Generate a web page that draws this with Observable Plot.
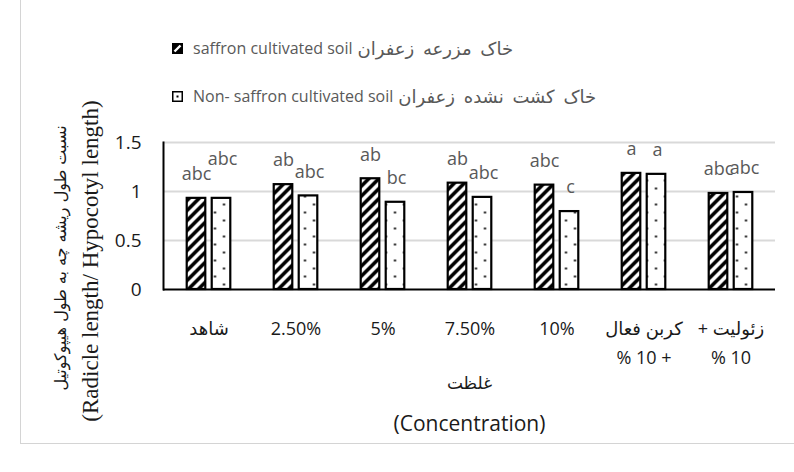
<!DOCTYPE html>
<html>
<head>
<meta charset="utf-8">
<script src="https://cdn.jsdelivr.net/npm/d3@7"></script>
<script src="https://cdn.jsdelivr.net/npm/@observablehq/plot@0.6"></script>
<style>
  html, body { margin: 0; padding: 0; background: #fff; }
  #wrap { position: relative; width: 794px; height: 472px; overflow: hidden; font-family: "Open Sans", "DejaVu Sans", sans-serif; }
  #border { position: absolute; left: 20px; top: -2px; width: 790px; height: 445px; border-left: 1px solid #d4d4d4; border-bottom: 1px solid #d4d4d4; }
  #legend { position: absolute; left: 172px; top: 24px; font-size: 16px; color: #595959; }
  .row { height: 48px; display: flex; align-items: center; white-space: nowrap; }
  .row svg { margin-right: 10px; flex: none; }
  .fa { font-family: "DejaVu Sans", sans-serif; font-size: 18px; word-spacing: 3px; margin-left: 5px; }
</style>
</head>
<body>
<div id="wrap">
  <div id="border"></div>
  <div id="chart"></div>
  <div id="legend"></div>
</div>
<script>
// ---- data ----
const categories = ["control", "2.5", "5", "7.5", "10", "ac10", "zeo10"];
const categoryLabels = ["شاهد", "2.50%", "5%", "7.50%", "10%", "کربن فعال\n% 10 +", "+ زئولیت\n% 10"];
const seriesNames = ["saffron cultivated soil", "Non- saffron cultivated soil"];
const seriesNamesFa = ["خاک مزرعه زعفران", "خاک کشت نشده زعفران"];
const saffronValues = [0.93, 1.07, 1.13, 1.085, 1.065, 1.185, 0.98];
const nonSaffronValues = [0.93, 0.955, 0.89, 0.94, 0.795, 1.175, 0.99];
const saffronLetters = ["abc", "ab", "ab", "ab", "abc", "a", "abc"];
const nonSaffronLetters = ["abc", "abc", "bc", "abc", "c", "a", "abc"];
const yTicks = [0, 0.5, 1, 1.5];
const yTitleFa = "نسبت طول ریشه چه به طول هیپوکوتیل";
const yTitleEn = "(Radicle length/ Hypocotyl length)";
const xTitleFa = "غلظت";
const xTitleEn = "(Concentration)";

const saffron = categories.map((c, i) => ({cat: c, v: saffronValues[i], sig: saffronLetters[i], i}));
const nonSaffron = categories.map((c, i) => ({cat: c, v: nonSaffronValues[i], sig: nonSaffronLetters[i], i}));
const labelOf = new Map(categories.map((c, i) => [c, categoryLabels[i]]));

// ---- layout ----
const W = 794, H = 472, mL = 163, mR = 19, mT = 142, mB = 183;
const band = (W - mL - mR) / categories.length;
const barW = 19, off = 12.5;
const inset = (band - barW) / 2;
const fa = "'DejaVu Sans', 'Open Sans', sans-serif";

const chart = Plot.plot({
  width: W, height: H,
  marginLeft: mL, marginRight: mR, marginTop: mT, marginBottom: mB,
  style: {fontFamily: "'Open Sans', 'DejaVu Sans', sans-serif", background: "transparent", overflow: "visible"},
  x: {domain: categories, padding: 0, axis: null},
  y: {domain: [0, 1.5], axis: null},
  marks: [
    Plot.gridY(yTicks.filter(d => d > 0), {stroke: "#d9d9d9", strokeOpacity: 1, strokeWidth: 2}),
    Plot.axisY({ticks: yTicks, tickSize: 0, tickPadding: 22, fontSize: 19, fill: "#1a1a1a", tickFormat: d => `${d}`, label: null}),
    Plot.barY(saffron, {x: "cat", y: "v", fill: "url(#hatch)", stroke: "#000", strokeWidth: 2.2, dx: -off, insetLeft: inset, insetRight: inset}),
    Plot.barY(nonSaffron, {x: "cat", y: "v", fill: "url(#dots)", stroke: "#000", strokeWidth: 2.2, dx: off, insetLeft: inset, insetRight: inset}),
    Plot.ruleY([0], {stroke: "#000", strokeWidth: 2}),
    Plot.frame({anchor: "left", stroke: "#000", strokeWidth: 2}),
    Plot.text(saffron, {x: "cat", y: "v", text: "sig", dx: -off, dy: -24, fontSize: 18, fill: "#595959"}),
    Plot.text(nonSaffron, {filter: d => d.i > 0, x: "cat", y: "v", text: "sig", dx: off + 1, dy: -24, fontSize: 18, fill: "#595959"}),
    Plot.text(nonSaffron, {filter: d => d.i === 0, x: "cat", y: "v", text: "sig", dx: off + 1, dy: -39, fontSize: 18, fill: "#595959"}),
    Plot.text(categories, {x: d => d, text: d => labelOf.get(d), frameAnchor: "bottom", lineAnchor: "top", dy: 25, fontSize: 18, lineHeight: 1.6, fill: "#1a1a1a"}),
    Plot.text([xTitleFa], {frameAnchor: "bottom", dy: 99, fontSize: 17, fill: "#1a1a1a", fontFamily: fa}),
    Plot.text([xTitleEn], {frameAnchor: "bottom", dy: 141, fontSize: 21, fill: "#1a1a1a"}),
    Plot.text([yTitleFa], {frameAnchor: "left", textAnchor: "middle", rotate: -90, dx: -103, dy: 42, fontSize: 16, fill: "#1a1a1a", fontFamily: fa}),
    Plot.text([yTitleEn], {frameAnchor: "left", textAnchor: "middle", rotate: -90, dx: -73, dy: 45, fontSize: 23, fill: "#1a1a1a", fontFamily: "'Liberation Serif', 'DejaVu Serif', serif"})
  ]
});

// patterns
const defs = `<defs>
  <pattern id="hatch" patternUnits="userSpaceOnUse" width="10" height="10">
    <rect width="10" height="10" fill="#fff"/>
    <path d="M-2,2 L2,-2 M0,10 L10,0 M8,12 L12,8" stroke="#000" stroke-width="3.6"/>
  </pattern>
  <pattern id="dots" patternUnits="userSpaceOnUse" width="18" height="16">
    <rect width="18" height="16" fill="#fff"/>
    <rect x="3.5" y="3.5" width="2" height="2" fill="#000"/>
    <rect x="12.5" y="11.5" width="2" height="2" fill="#000"/>
  </pattern>
</defs>`;
chart.insertAdjacentHTML("afterbegin", defs);
document.getElementById("chart").appendChild(chart);

// legend
const swatches = [
  `<svg width="11" height="11"><rect x="0.75" y="0.75" width="9.5" height="9.5" fill="#000" stroke="#000" stroke-width="1.5"/><path d="M2.5,8.5 L8.5,2.5" stroke="#fff" stroke-width="2.4"/></svg>`,
  `<svg width="11" height="11"><rect x="0.75" y="0.75" width="9.5" height="9.5" fill="#fff" stroke="#000" stroke-width="1.5"/><rect x="4.5" y="4.5" width="2" height="2" fill="#000"/></svg>`
];
const legend = document.getElementById("legend");
seriesNames.forEach((name, i) => {
  const row = document.createElement("div");
  row.className = "row";
  row.innerHTML = swatches[i] + `<span class="en"></span><span class="fa" dir="rtl"></span>`;
  row.querySelector(".en").textContent = name;
  row.querySelector(".fa").textContent = seriesNamesFa[i];
  legend.appendChild(row);
});
</script>
</body>
</html>
